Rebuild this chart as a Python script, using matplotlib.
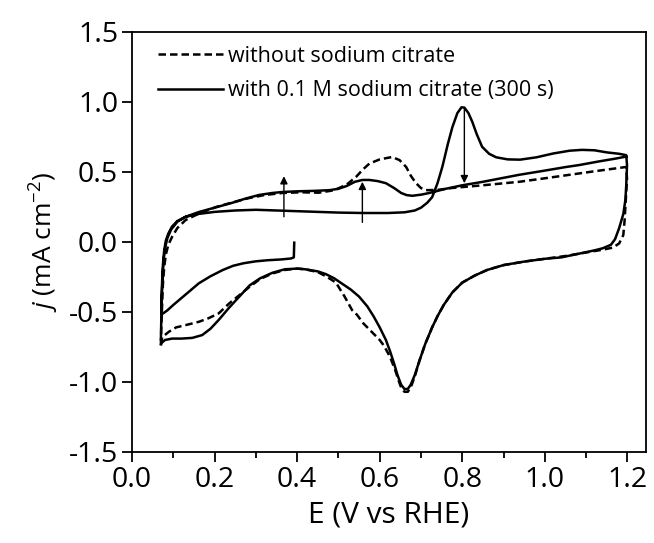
import matplotlib
matplotlib.use('Agg')
from matplotlib import pyplot as plt

plt.rcParams['font.family'] = ['Open Sans', 'DejaVu Sans']
plt.rcParams['mathtext.fontset'] = 'custom'
plt.rcParams['mathtext.rm'] = 'Open Sans'
plt.rcParams['mathtext.it'] = 'Open Sans:italic'

# ---- CV without sodium citrate (one full cycle) ----
E_blank = [0.070, 0.071, 0.073, 0.075, 0.078, 0.082, 0.088, 0.097, 0.110, 0.130,
           0.160, 0.204, 0.240, 0.284, 0.320, 0.364, 0.410, 0.453, 0.490, 0.520,
           0.543, 0.560, 0.575, 0.600, 0.630, 0.648, 0.664, 0.676, 0.688, 0.700,
           0.712, 0.740, 0.776, 0.850, 0.938, 1.000, 1.060, 1.120, 1.170, 1.197,
           1.199, 1.196, 1.193, 1.190, 1.180, 1.165, 1.140, 1.100, 1.050, 1.000,
           0.950, 0.900, 0.860, 0.830, 0.800, 0.776, 0.755, 0.740, 0.727, 0.710,
           0.696, 0.685, 0.675, 0.668, 0.660, 0.652, 0.647, 0.638, 0.625, 0.610,
           0.600, 0.580, 0.560, 0.545, 0.533, 0.515, 0.494, 0.470, 0.450, 0.420,
           0.400, 0.370, 0.340, 0.310, 0.285, 0.260, 0.235, 0.210, 0.185, 0.162,
           0.135, 0.107, 0.090, 0.073, 0.070]
j_blank = [-0.74, -0.60, -0.45, -0.30, -0.18, -0.09, -0.02, 0.036, 0.10, 0.157,
           0.20, 0.25, 0.28, 0.314, 0.335, 0.35, 0.355, 0.352, 0.37, 0.41,
           0.466, 0.52, 0.56, 0.59, 0.607, 0.585, 0.536, 0.47, 0.42, 0.385,
           0.37, 0.372, 0.386, 0.405, 0.43, 0.455, 0.48, 0.505, 0.525, 0.536,
           0.45, 0.30, 0.15, 0.05, -0.01, -0.04, -0.055, -0.075, -0.10, -0.12,
           -0.14, -0.165, -0.20, -0.24, -0.29, -0.36, -0.45, -0.53, -0.61, -0.73,
           -0.85, -0.96, -1.04, -1.07, -1.07, -1.04, -1.00, -0.92, -0.82, -0.74,
           -0.70, -0.64, -0.58, -0.52, -0.486, -0.39, -0.29, -0.245, -0.215, -0.195,
           -0.19, -0.20, -0.225, -0.265, -0.32, -0.38, -0.44, -0.51, -0.545, -0.57,
           -0.59, -0.61, -0.64, -0.68, -0.74]

# ---- CV with 0.1 M sodium citrate: start at OCP, cycle 1 and cycle 2 ----
E_cit = [0.393, 0.392, 0.385, 0.360, 0.330, 0.300, 0.270, 0.245, 0.220, 0.190,
         0.162, 0.140, 0.120, 0.100, 0.085, 0.073,
         # cycle 1 anodic
         0.071, 0.072, 0.073, 0.075, 0.078, 0.082, 0.088, 0.097, 0.110, 0.130,
         0.160, 0.200, 0.250, 0.300, 0.350, 0.400, 0.450, 0.500, 0.560, 0.620,
         0.660, 0.685, 0.700, 0.715, 0.727, 0.740, 0.752, 0.765, 0.776, 0.788,
         0.798, 0.805, 0.815, 0.824, 0.835, 0.848, 0.865, 0.882, 0.910, 0.940,
         0.980, 1.020, 1.060, 1.090, 1.120, 1.150, 1.180, 1.197,
         # cathodic
         1.199, 1.197, 1.195, 1.190, 1.180, 1.170, 1.160, 1.140, 1.120, 1.080,
         1.040, 1.000, 0.950, 0.900, 0.860, 0.830, 0.800, 0.776, 0.755, 0.740,
         0.727, 0.710, 0.696, 0.685, 0.675, 0.668, 0.660, 0.652, 0.643, 0.635,
         0.625, 0.615, 0.600, 0.585, 0.570, 0.550, 0.530, 0.510, 0.490, 0.470,
         0.450, 0.420, 0.400, 0.370, 0.340, 0.310, 0.285, 0.260, 0.235, 0.210,
         0.190, 0.170, 0.146, 0.120, 0.097, 0.080, 0.072,
         # cycle 2 anodic
         0.070, 0.071, 0.072, 0.074, 0.077, 0.081, 0.086, 0.095, 0.110, 0.130,
         0.162, 0.200, 0.243, 0.275, 0.308, 0.340, 0.364, 0.400, 0.440, 0.478,
         0.500, 0.520, 0.540, 0.558, 0.575, 0.595, 0.615, 0.635, 0.652, 0.665,
         0.679, 0.700, 0.720, 0.760, 0.800, 0.850, 0.900, 0.938, 1.000, 1.050,
         1.084, 1.130, 1.170, 1.197]
j_cit = [-0.005, -0.110, -0.118, -0.125, -0.130, -0.138, -0.152, -0.170, -0.200, -0.245,
         -0.295, -0.350, -0.400, -0.450, -0.490, -0.515,
         -0.50, -0.40, -0.28, -0.16, -0.06, 0.01, 0.06, 0.11, 0.15, 0.18,
         0.20, 0.215, 0.225, 0.23, 0.225, 0.22, 0.215, 0.21, 0.207, 0.207,
         0.212, 0.225, 0.245, 0.28, 0.32, 0.42, 0.54, 0.70, 0.82, 0.92,
         0.962, 0.96, 0.92, 0.86, 0.77, 0.68, 0.63, 0.605, 0.59, 0.588,
         0.605, 0.632, 0.652, 0.658, 0.655, 0.64, 0.63, 0.62,
         0.55, 0.40, 0.30, 0.20, 0.10, 0.02, -0.02, -0.045, -0.06, -0.085,
         -0.11, -0.12, -0.14, -0.165, -0.20, -0.24, -0.29, -0.36, -0.45, -0.53,
         -0.61, -0.73, -0.85, -0.95, -1.02, -1.05, -1.05, -1.02, -0.95, -0.87,
         -0.78, -0.70, -0.61, -0.53, -0.46, -0.39, -0.34, -0.30, -0.26, -0.23,
         -0.21, -0.195, -0.19, -0.195, -0.22, -0.26, -0.31, -0.39, -0.47, -0.557,
         -0.62, -0.665, -0.685, -0.69, -0.69, -0.70, -0.72,
         -0.70, -0.55, -0.40, -0.25, -0.12, -0.03, 0.03, 0.09, 0.145, 0.18,
         0.214, 0.245, 0.28, 0.31, 0.336, 0.35, 0.357, 0.362, 0.365, 0.37,
         0.38, 0.40, 0.43, 0.443, 0.443, 0.435, 0.42, 0.385, 0.35, 0.335,
         0.33, 0.338, 0.35, 0.38, 0.405, 0.43, 0.458, 0.48, 0.51, 0.535,
         0.55, 0.575, 0.595, 0.61]

# arrows showing the change after citrate: (E, j start, j end)
arrow_E = [0.368, 0.558, 0.805]
arrow_from = [0.18, 0.14, 0.957]
arrow_to = [0.47, 0.43, 0.42]

fig = plt.figure(figsize=(6.54, 5.43), dpi=100)
ax = fig.add_axes([0.2018, 0.1676, 0.786, 0.7735])

ax.plot(E_blank, j_blank, color='black', lw=1.8, linestyle=(0, (3, 1.6)),
        label='without sodium citrate')
ax.plot(E_cit, j_cit, color='black', lw=1.8, solid_joinstyle='round',
        label='with 0.1 M sodium citrate (300 s)')

for xe, y0, y1 in zip(arrow_E, arrow_from, arrow_to):
    ax.annotate('', xy=(xe, y1), xytext=(xe, y0),
                arrowprops=dict(arrowstyle='-|>', lw=1.0, color='black',
                                mutation_scale=11, shrinkA=0, shrinkB=0))

ax.set_xlim(0, 1.245)
ax.set_ylim(-1.5, 1.5)
ax.set_xticks([0.0, 0.2, 0.4, 0.6, 0.8, 1.0, 1.2])
ax.set_xticks([0.1, 0.3, 0.5, 0.7, 0.9, 1.1], minor=True)
ax.set_yticks([-1.5, -1.0, -0.5, 0.0, 0.5, 1.0, 1.5])
ax.set_xticklabels(['0.0', '0.2', '0.4', '0.6', '0.8', '1.0', '1.2'])
ax.set_yticklabels(['-1.5', '-1.0', '-0.5', '0.0', '0.5', '1.0', '1.5'])
ax.tick_params(axis='both', which='major', direction='out', length=7, width=1.3,
               labelsize=20.5, pad=3)
ax.tick_params(axis='x', which='minor', direction='out', length=4, width=1.3)
for sp in ax.spines.values():
    sp.set_linewidth(1.3)

ax.set_xlabel('E (V vs RHE)', fontsize=21.5, labelpad=5)
ax.set_ylabel('$j$ (mA cm$^{-2}$)', fontsize=19, labelpad=6)

ax.legend(loc='upper left', bbox_to_anchor=(0.034, 0.988), frameon=False,
          fontsize=15.5, handlelength=3.0, handletextpad=0.25, labelspacing=0.63,
          borderaxespad=0)

fig.savefig('out.png', dpi=100)
